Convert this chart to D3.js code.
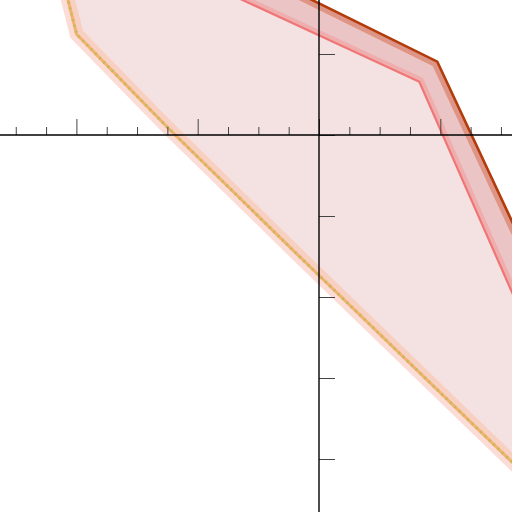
<!DOCTYPE html>
<html>
<head>
<meta charset="utf-8">
<script src="https://cdn.jsdelivr.net/npm/d3@7"></script>
<style>
html,body{margin:0;padding:0;background:#fff;}
svg{display:block;}
</style>
</head>
<body>
<svg id="chart" width="512" height="512"></svg>
<script>
// Boundary curves (data units)
const outerX = [-0.223, 0.975, 1.632];          // dark brown upper boundary
const outerY = [1.790, 0.905, -1.198];
const innerX = [-0.808, 0.827, 1.619];          // red inner boundary
const innerY = [1.790, 0.658, -2.037];
const lowerX = [-2.090, -1.998, -1.242, -0.157, 1.591, 1.674]; // orange dotted lower boundary
const lowerY = [1.790, 1.243, 0.083, -1.506, -4.037, -4.160];
const xMajorTicks = [-2, -1, 0, 1];
const xMinorTicks = [-2.5, -2.25, -1.75, -1.5, -1.25, -0.75, -0.5, -0.25, 0.25, 0.5, 0.75, 1.25, 1.5];
const yMajorTicks = [1, 0, -1, -2, -3, -4];

const W = 512, H = 512;
const x = d3.scaleLinear().domain([-319/121.3, 193/121.3]).range([0, W]);
const y = d3.scaleLinear().domain([135/81, -377/81]).range([0, H]);

const svg = d3.select("#chart");
const pts = (xs, ys) => xs.map((v, i) => [v, ys[i]]);
const outer = pts(outerX, outerY);
const inner = pts(innerX, innerY);
const lower = pts(lowerX, lowerY);

const line = d3.line().x(d => x(d[0])).y(d => y(d[1]));
// corner points of the region beyond the plot edge
const farRight = x.domain()[1] + 0.3, farTop = y.domain()[0] + 0.3;
function regionPoly(upper) {
  const up = upper.slice().reverse();
  return lower.concat([[farRight, lower[lower.length-1][1]], [farRight, upper[upper.length-1][1]]])
    .concat(up).concat([[up[up.length-1][0], farTop], [lower[0][0], farTop]]);
}
const outerPoly = regionPoly(outer);
const innerPoly = regionPoly(inner);
const area = d3.line().x(d => x(d[0])).y(d => y(d[1])).curve(d3.curveLinearClosed);

const defs = svg.append("defs");
defs.append("clipPath").attr("id", "clipOuter").append("path").attr("d", area(outerPoly));
defs.append("clipPath").attr("id", "clipInner").append("path").attr("d", area(innerPoly));

// band between brown and red lines
svg.append("path").attr("d", area(outerPoly)).attr("fill", "#ebc5c5");
const gO = svg.append("g").attr("clip-path", "url(#clipOuter)");
gO.append("path").attr("d", line(outer)).attr("fill", "none").attr("stroke", "#de9585").attr("stroke-width", 12).attr("stroke-linejoin", "miter");
gO.append("path").attr("d", line(inner)).attr("fill", "none").attr("stroke", "#efadad").attr("stroke-width", 10);
// interior
svg.append("path").attr("d", area(innerPoly)).attr("fill", "#f4e1e1");

// lower boundary bands
svg.append("path").attr("d", line(lower)).attr("fill", "none").attr("stroke", "#fcdcd6").attr("stroke-width", 14);
svg.append("g").attr("clip-path", "url(#clipInner)")
  .append("path").attr("d", line(lower)).attr("fill", "none").attr("stroke", "#f8d0c2").attr("stroke-width", 14);
svg.append("path").attr("d", line(lower)).attr("fill", "none").attr("stroke", "#f2b26e").attr("stroke-width", 3);
svg.append("path").attr("d", line(lower)).attr("fill", "none").attr("stroke", "#c9b95e").attr("stroke-width", 3).attr("stroke-dasharray", "2,4");

// red and brown lines
svg.append("path").attr("d", line(inner)).attr("fill", "none").attr("stroke", "#f07676").attr("stroke-width", 2.2);
svg.append("path").attr("d", line(outer)).attr("fill", "none").attr("stroke", "#b23c0c").attr("stroke-width", 2.6).attr("stroke-linejoin", "miter");

// axes
const x0 = x(0), y0 = y(0);
const xMaj = svg.append("g").attr("transform", `translate(0,${y0})`)
  .call(d3.axisTop(x).tickValues(xMajorTicks).tickSize(16).tickFormat(""));
const xMin = svg.append("g").attr("transform", `translate(0,${y0})`)
  .call(d3.axisTop(x).tickValues(xMinorTicks).tickSize(8).tickFormat(""));
const yMaj = svg.append("g").attr("transform", `translate(${x0},0)`)
  .call(d3.axisRight(y).tickValues(yMajorTicks).tickSize(16).tickFormat(""));
[xMaj, xMin, yMaj].forEach(g => {
  g.select(".domain").remove();
  g.selectAll(".tick line").attr("stroke", "#444").attr("stroke-width", 1);
});
svg.append("line").attr("x1", 0).attr("x2", W).attr("y1", y0).attr("y2", y0).attr("stroke", "#000").attr("stroke-width", 1.4);
svg.append("line").attr("x1", x0).attr("x2", x0).attr("y1", 0).attr("y2", H).attr("stroke", "#000").attr("stroke-width", 1.4);
</script>
</body>
</html>
